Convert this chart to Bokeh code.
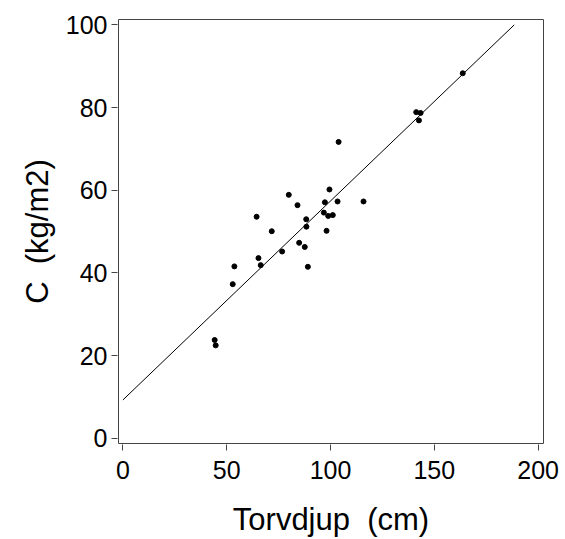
from bokeh.plotting import figure
from bokeh.models import Range1d, FixedTicker, ColumnDataSource
from bokeh.embed import file_html
from bokeh.resources import INLINE

# Data
depth = [99.5, 79.9, 115.9, 103.4, 97.3, 84.1, 96.8, 98.9, 101.1, 64.4,
         88.3, 88.4, 98.1, 71.7, 84.9, 87.6, 76.7, 65.3, 53.7, 66.4,
         89.1, 52.9, 103.9, 163.7, 141.3, 143.4, 142.6, 44.2, 44.7]
carbon = [60.2, 58.9, 57.3, 57.3, 57.1, 56.4, 54.6, 53.8, 54.0, 53.6,
          53.0, 51.2, 50.2, 50.1, 47.3, 46.3, 45.2, 43.6, 41.6, 41.9,
          41.5, 37.3, 71.7, 88.3, 78.9, 78.7, 76.9, 23.8, 22.5]
fit_x = [0, 188.5]
fit_y = [9.3, 100]
x_ticks = [0, 50, 100, 150, 200]
y_ticks = [0, 20, 40, 60, 80, 100]

FONT = "Liberation Sans"

p = figure(width=565, height=539, output_backend="svg", toolbar_location=None,
           x_range=Range1d(-2.12, 202.6), y_range=Range1d(-1.23, 101.3),
           min_border_left=118, min_border_right=22, min_border_top=19,
           min_border_bottom=95)

p.line(fit_x, fit_y, line_color="black", line_width=1)
src = ColumnDataSource(dict(x=depth, y=carbon))
p.scatter("x", "y", source=src, size=5, fill_color="black", line_color="black")

p.grid.visible = False
p.outline_line_color = "#444444"
p.outline_line_width = 1

for ax in (p.xaxis[0], p.yaxis[0]):
    ax.axis_line_color = None
    ax.major_tick_line_color = "#444444"
    ax.major_tick_in = -1
    ax.major_tick_out = 7
    ax.minor_tick_line_color = None
    ax.major_label_text_font = FONT
    ax.major_label_text_font_size = "25px"
    ax.major_label_text_color = "black"
    ax.axis_label_text_font = FONT
    ax.axis_label_text_font_size = "31px"
    ax.axis_label_text_font_style = "normal"
    ax.axis_label_text_color = "black"

p.xaxis[0].ticker = FixedTicker(ticks=x_ticks)
p.yaxis[0].ticker = FixedTicker(ticks=y_ticks)
p.xaxis[0].axis_label = "Torvdjup\u00a0 (cm)"
p.yaxis[0].axis_label = "C\u00a0 (kg/m2)"
p.xaxis[0].major_label_standoff = 10
p.yaxis[0].major_label_standoff = 4
p.xaxis[0].axis_label_standoff = 20
p.yaxis[0].axis_label_standoff = 8

open("out.html", "w").write(file_html(p, INLINE))
